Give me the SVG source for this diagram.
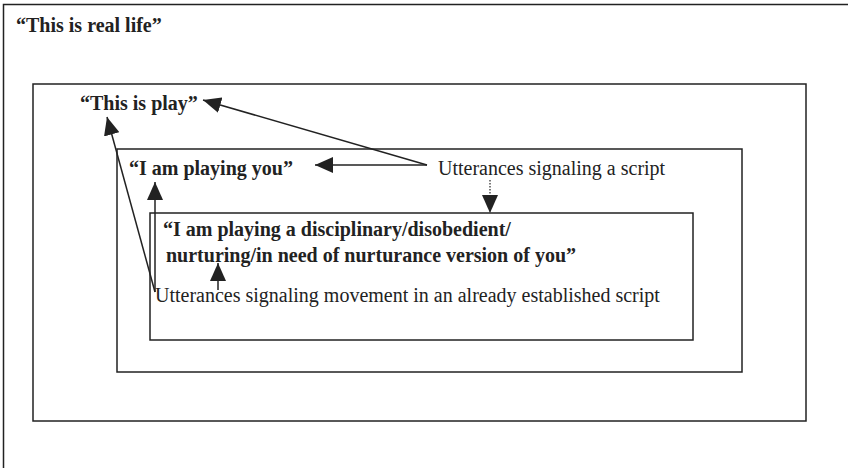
<svg xmlns="http://www.w3.org/2000/svg" width="848" height="468" viewBox="0 0 848 468">
<style>
.box{fill:none;stroke:#222;stroke-width:1.5}
.b{font-family:"Liberation Serif","Times New Roman",serif;font-weight:bold;font-size:20px;fill:#222}
.r{font-family:"Liberation Serif","Times New Roman",serif;font-size:20px;fill:#222}
.c{fill:none;stroke:#222;stroke-width:1.5}
.d{fill:none;stroke:#222;stroke-width:1.2;stroke-dasharray:1.5 1.5}
</style>
<defs>
<marker id="ah" viewBox="0 0 18 16" refX="18" refY="8" markerWidth="18" markerHeight="16" markerUnits="userSpaceOnUse" orient="auto">
<path d="M0,0 L18,8 L0,16 z" fill="#222"/>
</marker>
</defs>
<rect x="0" y="0" width="848" height="468" fill="#fff"/>
<g id="real-life">
<path class="box" d="M3.5,470 V4.5 H850"/>
<text class="b" x="16" y="32">“This is real life”</text>
</g>
<g id="play">
<rect class="box" x="33" y="84" width="773" height="337"/>
<text class="b" x="80" y="110">“This is play”</text>
</g>
<g id="playing-you">
<rect class="box" x="117" y="149" width="625" height="223"/>
<text class="b" x="129" y="175">“I am playing you”</text>
</g>
<g id="version">
<rect class="box" x="150" y="213" width="543" height="127"/>
<text class="b" x="163" y="236">“I am playing a disciplinary/disobedient/</text>
<text class="b" x="166" y="262">nurturing/in need of nurturance version of you”</text>
</g>
<g id="script-label">
<text class="r" x="438" y="175">Utterances signaling a script</text>
</g>
<g id="movement-label">
<text class="r" x="155" y="302">Utterances signaling movement in an already established script</text>
</g>
<g id="connectors">
<line class="c" x1="427" y1="165" x2="203" y2="100" marker-end="url(#ah)"/>
<line class="c" x1="427" y1="165" x2="315" y2="165" marker-end="url(#ah)"/>
<line class="d" x1="490" y1="180" x2="490" y2="213" marker-end="url(#ah)"/>
<line class="c" x1="155" y1="292" x2="107" y2="117" marker-end="url(#ah)"/>
<line class="c" x1="155" y1="292" x2="155" y2="182" marker-end="url(#ah)"/>
<line class="c" x1="218" y1="290" x2="218" y2="263" marker-end="url(#ah)"/>
</g>
</svg>
